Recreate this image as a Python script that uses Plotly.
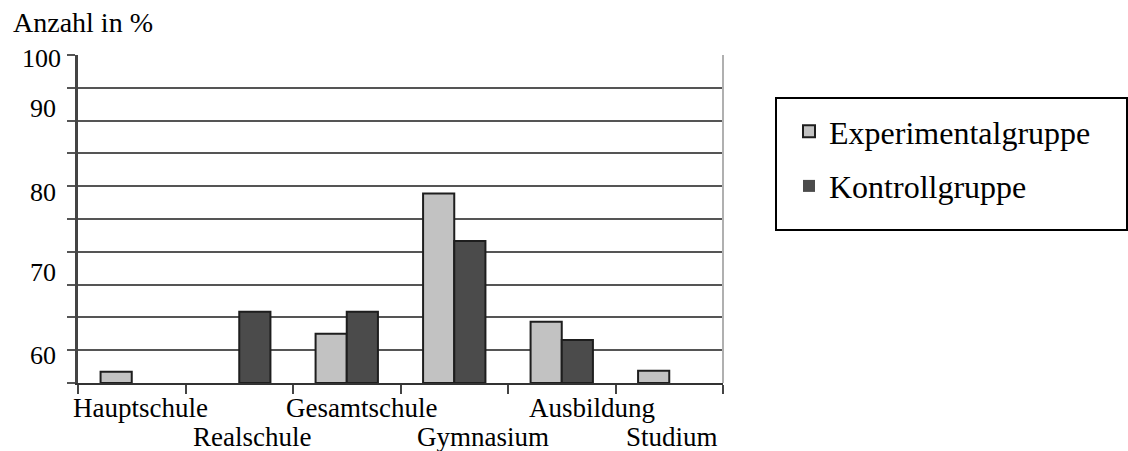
import plotly.graph_objects as go

# School / training path distribution, percent of each group
categories = ["Hauptschule", "Realschule", "Gesamtschule", "Gymnasium", "Ausbildung", "Studium"]
experimental = [3.4, 0, 15.0, 57.8, 18.7, 3.7]
kontroll = [0, 21.7, 21.7, 43.3, 13.1, 0]
y_tick_labels = ["100", "90", "80", "70", "60"]
series_names = ["Experimentalgruppe", "Kontrollgruppe"]

FONT = "Liberation Serif"
W, H = 1128, 451
L, R, T, B = 78, 405, 55, 68
PW, PH = W - L - R, H - T - B


def px_x(px):
    return (px - L) / PW


def px_y(py):
    return (H - B - py) / PH


def outline_widths(values):
    # no outline on empty bars, so nothing is drawn along the axis
    return [2 if v > 0 else 0 for v in values]


fig = go.Figure()
fig.add_bar(
    x=categories, y=experimental, name=series_names[0],
    marker=dict(color="#c2c2c2", line=dict(color="#1e1e1e", width=outline_widths(experimental))),
    legendgroup="a",
)
fig.add_bar(
    x=categories, y=kontroll, name=series_names[1],
    marker=dict(color="#4b4b4b", line=dict(color="#1e1e1e", width=outline_widths(kontroll))),
    legendgroup="b",
)

annotations = []
# y-axis caption
annotations.append(dict(
    text="Anzahl in %", xref="paper", yref="paper", x=px_x(11), y=px_y(22),
    xanchor="left", yanchor="middle", showarrow=False,
    font=dict(family=FONT, size=28, color="black"),
))
# y labels
label_pos = [(63, 58), (58, 108), (58, 192), (58, 272), (58, 355)]
for txt, (rx, cy) in zip(y_tick_labels, label_pos):
    annotations.append(dict(
        text=txt, xref="paper", yref="paper", x=px_x(rx), y=px_y(cy),
        xanchor="right", yanchor="middle", showarrow=False,
        font=dict(family=FONT, size=26, color="black"),
    ))
# category labels, staggered on two rows
cat_pos = [(140, 408), (252, 437), (361, 408), (483, 437), (592, 408), (672, 437)]
for txt, (cx, cy) in zip(categories, cat_pos):
    annotations.append(dict(
        text=txt, xref="paper", yref="paper", x=px_x(cx), y=px_y(cy),
        xanchor="center", yanchor="middle", showarrow=False,
        font=dict(family=FONT, size=27, color="black"),
    ))

shapes = [
    # right border of the plot area
    dict(type="line", xref="paper", yref="paper", x0=1, x1=1, y0=0, y1=1,
         line=dict(color="#b0b0b0", width=2)),
    # legend frame
    dict(type="rect", xref="paper", yref="paper",
         x0=px_x(776), x1=px_x(1127), y0=px_y(230), y1=px_y(98),
         line=dict(color="black", width=2)),
]

fig.update_layout(
    width=W, height=H,
    margin=dict(l=L, r=R, t=T, b=B),
    paper_bgcolor="white", plot_bgcolor="white",
    barmode="group", bargap=0.42, bargroupgap=0,
    font=dict(family=FONT, size=26, color="black"),
    showlegend=True,
    legend=dict(
        x=px_x(789), y=px_y(104), xanchor="left", yanchor="top",
        bgcolor="rgba(0,0,0,0)", borderwidth=0,
        font=dict(family=FONT, size=32, color="black"),
        traceorder="grouped", tracegroupgap=10,
    ),
    annotations=annotations,
    shapes=shapes,
)
fig.update_xaxes(
    type="category", showgrid=False, showticklabels=False,
    showline=True, linecolor="#333333", linewidth=2,
    ticks="outside", tickson="boundaries", ticklen=9, tickwidth=2, tickcolor="#444444",
)
fig.update_yaxes(
    range=[0, 100], dtick=10, tick0=0, showticklabels=False,
    showgrid=True, gridcolor="#555555", gridwidth=2, zeroline=False,
    showline=True, linecolor="#444444", linewidth=3,
    ticks="outside", ticklen=8, tickwidth=2, tickcolor="#555555",
)

fig.write_html("out.html")
